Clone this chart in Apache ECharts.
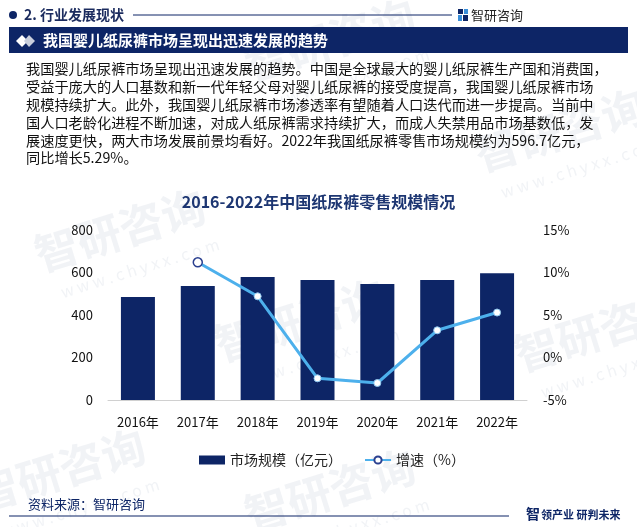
<!DOCTYPE html>
<html>
<head>
<meta charset="utf-8">
<script src="https://cdn.jsdelivr.net/npm/echarts@6/dist/echarts.min.js"></script>
<style>
html,body{margin:0;padding:0;background:#fff;}
#c{width:637px;height:527px;}
</style>
</head>
<body>
<div id="c"></div>
<script>
var categories = ['2016年','2017年','2018年','2019年','2020年','2021年','2022年'];
var marketSize = [485, 536, 579, 565, 546, 565, 596.7];
var growth = [null, 11.2, 7.2, -2.45, -3.0, 3.2, 5.29];
var leftTicks = {min: 0, max: 800, interval: 200};
var rightTicks = {min: -5, max: 15, interval: 5};
var paragraph = [
  '我国婴儿纸尿裤市场呈现出迅速发展的趋势。中国是全球最大的婴儿纸尿裤生产国和消费国，',
  '受益于庞大的人口基数和新一代年轻父母对婴儿纸尿裤的接受度提高，我国婴儿纸尿裤市场',
  '规模持续扩大。此外，我国婴儿纸尿裤市场渗透率有望随着人口迭代而进一步提高。当前中',
  '国人口老龄化进程不断加速，对成人纸尿裤需求持续扩大，而成人失禁用品市场基数低，发',
  '展速度更快，两大市场发展前景均看好。2022年我国纸尿裤零售市场规模约为596.7亿元，',
  '同比增长5.29%。'
];

var NAVY = '#0d2566';
var BLUE = '#4db0ec';
var FONT = '"Noto Sans CJK SC","Noto Sans",sans-serif';

var chart = echarts.init(document.getElementById('c'), null, {renderer: 'canvas'});

var graphics = [];
// faint watermarks
var wm = [[120,230],[330,40],[560,130],[300,320],[600,330],[60,470],[330,490]];
wm.forEach(function(p){
  graphics.push({type:'text', x:p[0], y:p[1], rotation: 0.3, z: -10,
    style:{text:'智研咨询', fill:'rgba(205,212,224,0.28)', font:'bold 44px '+FONT, textAlign:'center', textVerticalAlign:'middle'}});
  graphics.push({type:'text', x:p[0]+20, y:p[1]+38, rotation: 0.3, z: -10,
    style:{text:'w w w . c h y x x . c o m', fill:'rgba(205,212,224,0.28)', font:'16px '+FONT, textAlign:'center', textVerticalAlign:'middle'}});
});
// header dot + text + line
graphics.push({type:'circle', shape:{cx:13, cy:15, r:4}, style:{fill:NAVY}});
graphics.push({type:'text', x:24, y:15, style:{text:'2. 行业发展现状', fill:'#1b2b5e', font:'bold 14px '+FONT, textVerticalAlign:'middle'}});
graphics.push({type:'line', shape:{x1:133, y1:15, x2:452, y2:15}, style:{stroke:NAVY, lineWidth:1}});
// logo icon
graphics.push({type:'rect', shape:{x:458, y:9, width:5, height:5}, style:{fill:NAVY}});
graphics.push({type:'rect', shape:{x:464, y:9, width:4, height:5}, style:{fill:'#3a8fd9'}});
graphics.push({type:'rect', shape:{x:458, y:15, width:4, height:6}, style:{fill:'#3a8fd9'}});
graphics.push({type:'rect', shape:{x:463, y:15, width:5, height:6}, style:{fill:NAVY}});
graphics.push({type:'text', x:471, y:15, style:{text:'智研咨询', fill:'#222', font:'13px '+FONT, textVerticalAlign:'middle'}});
// band
graphics.push({type:'rect', shape:{x:9, y:27, width:619, height:26}, style:{fill:NAVY}});
graphics.push({type:'polygon', shape:{points:[[16,41],[22,35],[28,41],[22,47]]}, style:{fill:'#fff'}});
graphics.push({type:'polygon', shape:{points:[[24,41],[29,35],[35,41],[29,47]]}, style:{fill:'#c9cfdc'}});
graphics.push({type:'text', x:43, y:40, style:{text:'我国婴儿纸尿裤市场呈现出迅速发展的趋势', fill:'#fff', font:'bold 15px '+FONT, textVerticalAlign:'middle'}});
// paragraph
for (var i = 0; i < paragraph.length; i++) {
  graphics.push({type:'text', x:26, y:69 + i*17.8, style:{text:paragraph[i], fill:'#111', font:'14.2px '+FONT, textVerticalAlign:'middle'}});
}
// footer
graphics.push({type:'text', x:28, y:504, style:{text:'资料来源：智研咨询', fill:NAVY, font:'13px '+FONT, textVerticalAlign:'middle'}});
graphics.push({type:'line', shape:{x1:9, y1:516, x2:509, y2:516}, style:{stroke:NAVY, lineWidth:1.2}});
graphics.push({type:'text', x:526, y:514, style:{text:'智', fill:NAVY, font:'bold 14px '+FONT, textVerticalAlign:'middle'}});
graphics.push({type:'text', x:541, y:515, style:{text:'领产业 研判未来', fill:NAVY, font:'bold 11px '+FONT, textVerticalAlign:'middle'}});

var lineData = growth.map(function(v, idx){
  if (v === null) return null;
  if (idx === 1) {
    return {value: v, symbolSize: 9, itemStyle:{color:'#fff', borderColor:'#2a3f8f', borderWidth:1.5}};
  }
  return {value: v, symbolSize: 7, itemStyle:{color:'#fff', borderColor:'#8fc8f0', borderWidth:1}};
});

var option = {
  backgroundColor: '#fff',
  animation: false,
  textStyle: {fontFamily: FONT},
  title: {
    text: '2016-2022年中国纸尿裤零售规模情况',
    left: 'center',
    top: 189,
    textStyle: {color: '#1d3672', fontSize: 16, fontWeight: 'bold', fontFamily: FONT}
  },
  legend: {
    top: 448,
    left: 194,
    itemGap: 22,
    itemWidth: 26,
    itemHeight: 9,
    textStyle: {color: '#222', fontSize: 14, fontFamily: FONT},
    data: [
      {name: '市场规模（亿元）', icon: 'rect'},
      {name: '增速（%）'}
    ]
  },
  grid: {left: 108, right: 110, top: 230, bottom: 127, containLabel: false},
  xAxis: {
    type: 'category',
    data: categories,
    axisLine: {lineStyle: {color: '#d0d0d0'}},
    axisTick: {show: false},
    axisLabel: {color: '#111', fontSize: 13, margin: 16, fontFamily: FONT}
  },
  yAxis: [
    {
      type: 'value', min: leftTicks.min, max: leftTicks.max, interval: leftTicks.interval,
      splitLine: {show: false}, axisLine: {show: false}, axisTick: {show: false},
      axisLabel: {color: '#111', fontSize: 13, margin: 15, fontFamily: FONT}
    },
    {
      type: 'value', min: rightTicks.min, max: rightTicks.max, interval: rightTicks.interval,
      splitLine: {show: false}, axisLine: {show: false}, axisTick: {show: false},
      axisLabel: {color: '#111', fontSize: 13, margin: 16, formatter: '{value}%', fontFamily: FONT}
    }
  ],
  series: [
    {
      name: '市场规模（亿元）',
      type: 'bar',
      data: marketSize,
      barWidth: 34,
      itemStyle: {color: NAVY}
    },
    {
      name: '增速（%）',
      type: 'line',
      yAxisIndex: 1,
      data: lineData,
      symbol: 'circle',
      symbolSize: 7,
      lineStyle: {color: BLUE, width: 3},
      itemStyle: {color: '#fff', borderColor: '#2a3f8f', borderWidth: 1.5},
      connectNulls: false
    }
  ],
  graphic: graphics
};
chart.setOption(option);
</script>
</body>
</html>
